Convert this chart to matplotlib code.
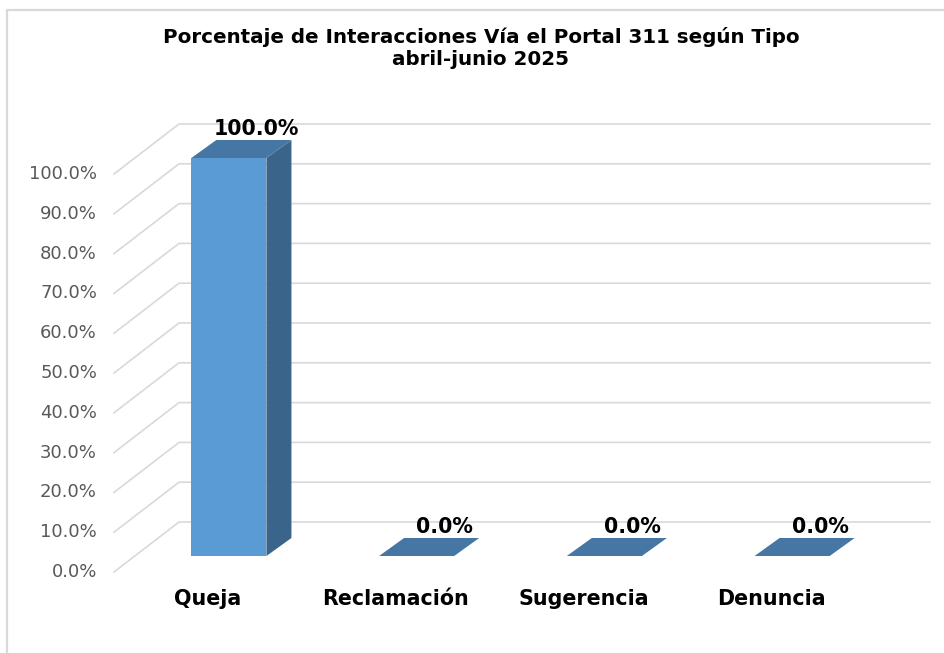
import matplotlib.pyplot as plt
from matplotlib.patches import Polygon
from matplotlib.lines import Line2D

# Datos
categorias = ['Queja', 'Reclamación', 'Sugerencia', 'Denuncia']
porcentajes = [100.0, 0.0, 0.0, 0.0]
niveles = [0, 10, 20, 30, 40, 50, 60, 70, 80, 90, 100]
etiquetas_y = [f'{n:.1f}%' for n in niveles]
titulo = 'Porcentaje de Interacciones Vía el Portal 311 según Tipo\nabril-junio 2025'

# Colores estilo Excel 3D
C_FRENTE = '#5B9BD5'
C_TOPE = '#4676A3'
C_LADO = '#3A6489'
C_GRID = '#D9D9D9'

W, H = 945, 653
fig = plt.figure(figsize=(W / 100, H / 100), dpi=100)

# ejes: x de -0.5 a 3.5 y de 0 a 100 en el plano frontal de las barras
ax = fig.add_axes([135 / W, 97 / H, 751 / W, 398 / H])
ax.set_xlim(-0.5, 3.5)
ax.set_ylim(0, 100)
ax.axis('off')

px_x = 751 / 4      # pixeles por unidad x
px_y = 398 / 100    # pixeles por unidad y

# profundidad (en pixeles -> datos)
barra_dx, barra_dy = 25 / px_x, 18 / px_y
pared_fx, pared_fy = -21 / px_x, -16 / px_y   # plano frontal de la pared
pared_bx, pared_by = 44 / px_x, 34 / px_y     # plano trasero

# lineas de cuadricula (diagonal + horizontal al fondo)
for n in niveles:
    ax.plot([-0.5 + pared_fx, -0.5 + pared_bx, 3.5 + pared_bx],
            [n + pared_fy, n + pared_by, n + pared_by],
            color=C_GRID, lw=1.2, zorder=1, clip_on=False)

# etiquetas del eje y
for n, lab in zip(niveles, etiquetas_y):
    ax.annotate(lab, (-0.5 + pared_fx, n + pared_fy), xytext=(-17, 0),
                textcoords='offset pixels', ha='right', va='center',
                fontsize=13, color='#595959', annotation_clip=False)

# barras
ancho = 0.4
xs = list(range(len(categorias)))
ax.bar(xs, porcentajes, width=ancho, color=C_FRENTE, zorder=3, clip_on=False)
for x, v in zip(xs, porcentajes):
    x0, x1 = x - ancho / 2, x + ancho / 2
    lado = Polygon([(x1, 0), (x1 + barra_dx, barra_dy), (x1 + barra_dx, v + barra_dy), (x1, v)],
                   closed=True, facecolor=C_LADO, edgecolor='none', zorder=3, clip_on=False)
    tope = Polygon([(x0, v), (x1, v), (x1 + barra_dx, v + barra_dy), (x0 + barra_dx, v + barra_dy)],
                   closed=True, facecolor=C_TOPE, edgecolor='none', zorder=4, clip_on=False)
    ax.add_patch(lado)
    ax.add_patch(tope)
    ax.annotate(f'{v:.1f}%', (x + barra_dx, v + barra_dy), xytext=(3, 11),
                textcoords='offset pixels', ha='center', va='center',
                fontsize=14.8, fontweight='bold', color='black', annotation_clip=False)

# categorias
for x, c in zip(xs, categorias):
    ax.annotate(c, (x + pared_fx, 0), xytext=(0, -43), textcoords='offset pixels',
                ha='center', va='center', fontsize=14.9, fontweight='bold',
                color='black', annotation_clip=False)

# titulo
fig.text(481 / W, 1 - 48 / H, titulo, ha='center', va='center', fontsize=14.3,
         fontweight='bold', linespacing=1.15)

# borde del grafico (solo arriba e izquierda visibles)
fig.add_artist(Line2D([7 / W, 7 / W, 1.0], [0, 1 - 10 / H, 1 - 10 / H],
                      transform=fig.transFigure, color=C_GRID, lw=1.6))

fig.savefig('out.png', dpi=100)
